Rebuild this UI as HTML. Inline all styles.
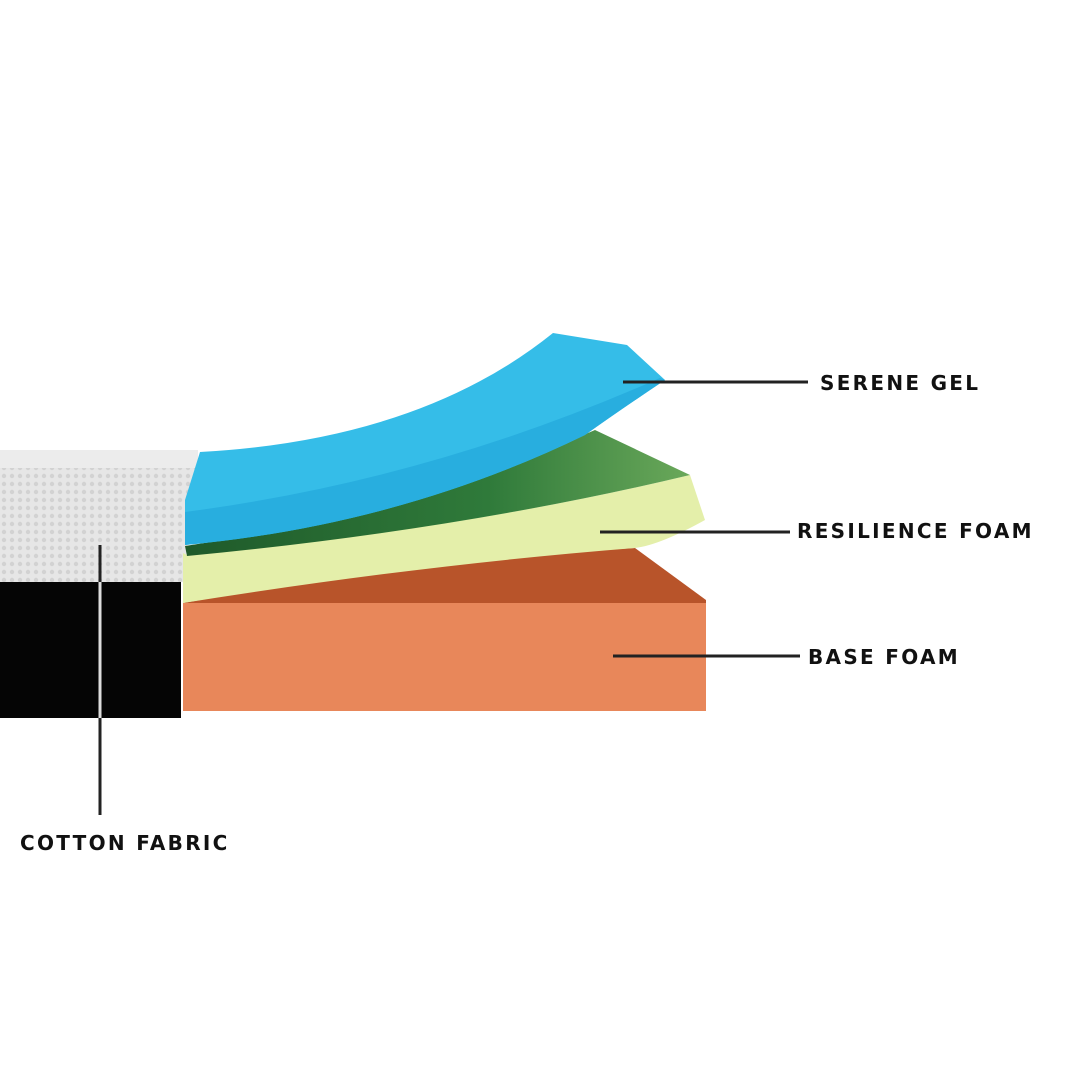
<!DOCTYPE html>
<html><head><style>
html,body{margin:0;padding:0;background:#fff;}
svg{display:block}
text{font-family:"DejaVu Sans","Liberation Sans",sans-serif;font-weight:bold;font-size:20px;fill:#111;letter-spacing:2.3px}
</style></head><body>
<svg width="1080" height="1080" viewBox="0 0 1080 1080">
<defs>
<pattern id="dots" width="8" height="8" patternUnits="userSpaceOnUse">
<rect width="8" height="8" fill="#e6e6e6"/>
<circle cx="4" cy="4" r="2.2" fill="#d2d2d2"/>
</pattern>
<linearGradient id="gr" x1="0" y1="0" x2="1" y2="0">
<stop offset="0" stop-color="#1f5a2a"/><stop offset="0.6" stop-color="#2f7a3a"/><stop offset="1" stop-color="#6aa85a"/>
</linearGradient>
</defs>
<polygon points="0,450 198,450 183,582 0,582" fill="url(#dots)"/>
<rect x="0" y="450" width="198" height="18" fill="#ececec"/>
<rect x="0" y="582" width="181" height="136" fill="#050505"/>
<path d="M183,603 L706,603 L706,600 L635,548 Q420,560 183,603 Z" fill="#b8542a"/>
<rect x="183" y="603" width="523" height="108" fill="#e8875a"/>
<!-- yellow front -->
<path d="M183,553 L187,555 Q460,530 690,475 L705,520 Q660,545 635,548 Q420,565 183,603 Z" fill="#e4efaa"/>
<!-- green top -->
<path d="M185,546 Q400,515 595,430 L690,475 Q460,530 187,556 Z" fill="url(#gr)"/>
<!-- blue -->
<path d="M200,452 Q420,440 553,333 L627,345 L665,380 Q620,410 585,435 Q400,525 185,545 L185,500 Z" fill="#35bde8"/>
<path d="M185,512 Q430,480 660,378 L665,380 Q620,410 585,435 Q400,525 185,545 Z" fill="#28aedf"/>
<g stroke="#222" stroke-width="3">
<line x1="623" y1="382" x2="808" y2="382"/>
<line x1="600" y1="532" x2="790" y2="532"/>
<line x1="613" y1="656" x2="800" y2="656"/>
<line x1="100" y1="545" x2="100" y2="815"/>
</g>
<line x1="100" y1="582" x2="100" y2="718" stroke="#ddd" stroke-width="3"/>
<text x="820" y="390">SERENE GEL</text>
<text x="797" y="538">RESILIENCE FOAM</text>
<text x="808" y="664">BASE FOAM</text>
<text x="20" y="850">COTTON FABRIC</text>
</svg>
</body></html>
